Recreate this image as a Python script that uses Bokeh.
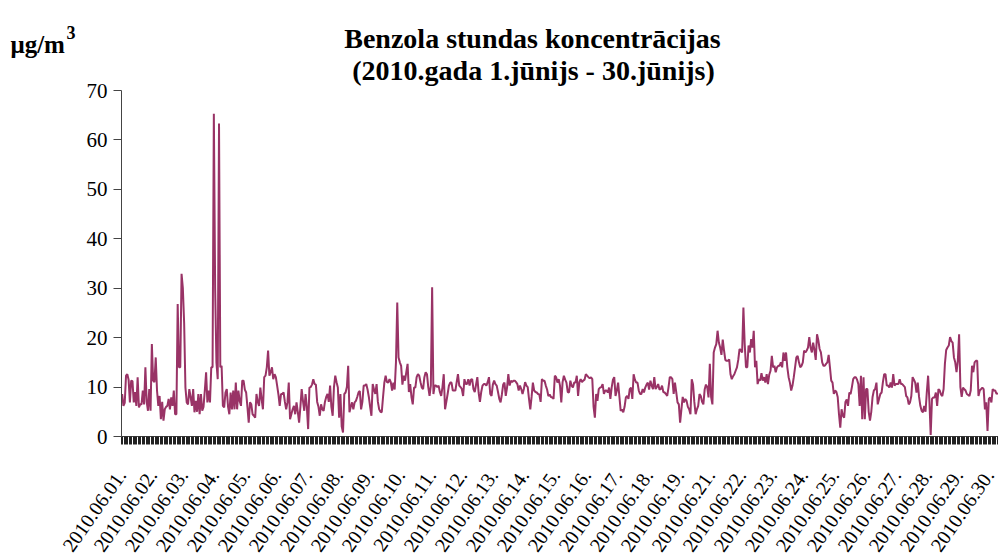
from bokeh.plotting import figure
from bokeh.models import FixedTicker, Range1d
from bokeh.core.properties import value
from bokeh.embed import file_html
from bokeh.resources import INLINE

# hourly benzene concentrations (µg/m3), one list per day (20 June missing in source)
d01 = [8.6, 6.2, 6.8, 12.3, 12.6, 11.5, 6.9, 11.3, 11.2, 6.9, 9, 6.2, 12, 5.9, 6.5, 6.5, 9.3, 6.5, 14, 7, 5.2, 9.6, 5.2, 18.7]
d02 = [11.3, 11, 16, 9.3, 6.2, 8.2, 3.5, 7, 3.2, 5.5, 6, 6.2, 7.6, 5.5, 7.9, 6.2, 9.3, 4.5, 4.5, 26.8, 14, 14, 32.9, 30]
d03 = [23, 9.9, 6.9, 6.5, 9.6, 8, 6.2, 9.6, 4.9, 7.2, 5, 8.6, 4.5, 8.6, 5.2, 6, 9.3, 13, 6.9, 9.3, 6.9, 14, 14, 65.3]
d04 = [30, 15, 11.6, 63.3, 14, 14.3, 6.2, 5.9, 8.9, 9.6, 6, 4.5, 8.9, 5.5, 9.3, 5.5, 10.9, 5.5, 9.3, 7.2, 6.2, 11.3, 11.3, 9.5]
d05 = [8.9, 6, 2.8, 6.9, 6.5, 4.5, 4.2, 3.8, 8.6, 7, 6.2, 9.9, 7.5, 5.5, 12, 12.3, 14, 17.4, 12.3, 13, 14, 11.6, 12.6, 12]
d06 = [10.3, 8.5, 6.2, 8.6, 8.6, 8.9, 7, 5.5, 6.9, 10.9, 3.5, 4.5, 5.5, 6.2, 4.5, 6.9, 5, 2.8, 6, 9.6, 7.2, 5.2, 8.6, 6]
d07 = [1.5, 9.9, 10, 10.5, 11.6, 10.6, 10.5, 7, 6, 4.2, 6.5, 5.5, 5.2, 7, 8, 8.6, 7, 10.3, 6, 4.2, 10, 12.3, 11, 9.9]
d08 = [3.8, 8.6, 2, 0.8, 8.6, 8.9, 10, 14.3, 4.9, 6, 6.9, 5.5, 6.9, 7.2, 8, 8.9, 9.2, 5.5, 7, 10.3, 10.3, 10.6, 9.5, 8]
d09 = [6, 4.2, 10.6, 9.5, 8.6, 10.6, 7, 5.5, 5, 4.9, 8, 10.9, 12.3, 11, 10.9, 11.6, 11, 9.3, 10.9, 9.5, 15, 27.1, 16, 15]
d10 = [14.3, 10.5, 12.3, 11.3, 13, 14.7, 9, 10.6, 8, 6.5, 9.9, 9.9, 12, 12.6, 12.3, 11, 9.9, 9.6, 12, 13, 12.6, 10, 8.2, 10.3]
d11 = [30.2, 8.6, 10.3, 10.3, 10, 10.3, 9, 8.2, 10, 12.6, 5.5, 7, 8.6, 10.3, 10.9, 10.9, 9.3, 9.3, 9.3, 11, 12.6, 10.3, 10, 9.6]
d12 = [8.2, 11.6, 10.6, 10.6, 11.6, 10.3, 11.5, 11.6, 9.6, 9, 10.5, 12, 8.9, 7, 9, 10.3, 10.6, 10.6, 10.3, 11, 12, 8.6, 8.2, 10.5]
d13 = [11.3, 10.6, 10.3, 9, 7.6, 6.9, 8.5, 10.5, 10.9, 8.2, 9.9, 12.6, 10.3, 11.3, 11, 11.3, 11.3, 11, 10.6, 9.3, 10.3, 9.6, 8.6, 9.6]
d14 = [11, 10.3, 10, 7.6, 5.5, 8, 10.9, 9.3, 9, 8.9, 8.6, 8.5, 7, 11.6, 11.3, 11.3, 10.3, 9.5, 8.2, 8.5, 8, 7.9, 7.6, 12.3]
d15 = [12, 10.9, 11.6, 10.3, 6.9, 11, 12.3, 11.5, 10.9, 9, 8.9, 11.3, 10.3, 9.9, 10.9, 10.9, 12.3, 8.2, 11, 11.6, 11, 11.3, 11.5, 12.6]
d16 = [12.3, 12, 11.8, 12, 11.6, 6, 3.8, 8.6, 7.2, 9.6, 9.9, 10, 10.6, 8.6, 9.3, 9.3, 8.9, 9.9, 7.6, 9.9, 11.5, 12, 8.2, 9.3]
d17 = [10.9, 8, 5.2, 5.5, 4.9, 6, 7.9, 8.2, 7.6, 9.6, 9.9, 7.6, 12.6, 11.5, 10.9, 10.9, 9.3, 8.6, 8.6, 9.6, 8.9, 9.9, 10.5, 10.9]
d18 = [9.5, 11.3, 10.3, 9.6, 12, 9.6, 10, 10.6, 9.5, 9.6, 10.3, 9, 8.9, 8.6, 8.2, 9.9, 12, 12, 11.6, 8.6, 10.9, 9, 6.9, 6.5]
d19 = [2.8, 5.5, 8, 6.9, 7.6, 7.2, 6, 5.5, 4.5, 11.6, 10.5, 7, 4.5, 5.5, 6.2, 8.6, 8.2, 7, 6.5, 9.5, 10.5, 10, 7.9, 14.7]
d21 = [8, 6.5, 17, 18, 18.7, 21.4, 19, 18, 16.5, 19.6, 17.4, 15.5, 15.3, 15.3, 15.6, 12.6, 11.6, 12.2, 12.6, 13.3, 14, 15.5, 17.7, 17.4]
d22 = [17, 26.1, 18.7, 14, 14, 18.4, 17, 19.7, 18, 21.4, 14, 15.3, 10.6, 11.6, 11.3, 12.8, 11.3, 12, 10.9, 12.6, 10.6, 12.5, 13.3, 16.3]
d23 = [14, 14.3, 13, 14, 14.3, 14.3, 15, 14, 17, 15.3, 17, 14, 12, 10.9, 9.3, 10.3, 12, 14, 16, 16.3, 15, 14, 14.3, 15]
d24 = [17.4, 17, 17.4, 18, 20.1, 18, 17, 19, 17.5, 15.5, 20.7, 19.5, 17.7, 17, 15, 14.3, 14.3, 14.7, 15, 16.5, 14, 11.3, 10.9, 8.6]
d25 = [9.3, 9, 8, 4.5, 1.8, 5.5, 4.2, 3.8, 7, 7.5, 6.2, 8.9, 8.6, 10, 11.6, 12, 12, 11.5, 10.6, 6.2, 12.3, 3.5, 12, 3.5]
d26 = [9.6, 9.6, 5, 3.2, 5, 8, 9.3, 9.6, 10.9, 6.5, 7.6, 8.6, 8.9, 11, 12.6, 12.6, 10.3, 10.3, 9.9, 10.9, 9.9, 12.6, 10.3, 10.6]
d27 = [10.6, 10.6, 11.6, 10.6, 10.6, 10.3, 10, 8.2, 7.9, 6.5, 6.9, 8.2, 12, 11.5, 10.9, 8.9, 10.9, 8, 6.2, 5.2, 4.9, 6.2, 5, 9]
d28 = [12.3, 7.2, 0.3, 7.6, 7.9, 7.9, 8.9, 6.2, 9.6, 9.3, 8.5, 8.2, 9.6, 14.7, 17.5, 18, 18.4, 20.1, 19.3, 19, 16, 15, 13, 15.3]
d29 = [20.7, 10, 8, 9.9, 9.6, 9.3, 8.6, 8.4, 8.2, 9.3, 14.3, 13, 15, 15.3, 15.3, 8.2, 9.3, 9.6, 9.9, 9.6, 5.5, 6.9, 1.1, 7.6]
d30 = [7.9, 6.9, 9.6, 9.3, 9.3, 8.6, 8.8]

days = [d01, d02, d03, d04, d05, d06, d07, d08, d09, d10, d11, d12, d13, d14, d15,
        d16, d17, d18, d19, d21, d22, d23, d24, d25, d26, d27, d28, d29, d30]
day_labels = ["2010.06.01.", "2010.06.02.", "2010.06.03.", "2010.06.04.", "2010.06.05.",
              "2010.06.06.", "2010.06.07.", "2010.06.08.", "2010.06.09.", "2010.06.10.",
              "2010.06.11.", "2010.06.12.", "2010.06.13.", "2010.06.14.", "2010.06.15.",
              "2010.06.16.", "2010.06.17.", "2010.06.18.", "2010.06.19.", "2010.06.21.",
              "2010.06.22.", "2010.06.23.", "2010.06.24.", "2010.06.25.", "2010.06.26.",
              "2010.06.27.", "2010.06.28.", "2010.06.29.", "2010.06.30."]
y_ticks = [0, 10, 20, 30, 40, 50, 60, 70]
Y_MAX = 70
title_line1 = "Benzola stundas koncentrācijas"
title_line2 = "(2010.gada 1.jūnijs - 30.jūnijs)"
unit_main = "μg/m"
unit_sup = "3"

values = [v for d in days for v in d]
n = len(values)
hours = [i + 0.5 for i in range(n)]
day_starts = []
pos = 0
for d in days:
    day_starts.append(pos)
    pos += len(d)

# ---- layout (canvas pixels); the frame covers the whole canvas ----
W, H = 998, 559
AXIS_X = 121          # canvas x of the value axis (hour 0)
AXIS_Y0 = 436         # canvas y of value 0
AXIS_Y70 = 90         # canvas y of value 70
ppx = (W - AXIS_X) / n
ppy = (AXIS_Y0 - AXIS_Y70) / Y_MAX
x_start = -AXIS_X / ppx
y_start = -(H - AXIS_Y0) / ppy
y_end = AXIS_Y0 / ppy

def to_data(cx, cy):
    return (cx - AXIS_X) / ppx, (AXIS_Y0 - cy) / ppy

SERIF = "Liberation Serif"
LINE = "#993366"
AXC = "#444444"

p = figure(width=W, height=H, output_backend="svg", toolbar_location=None,
           x_range=Range1d(x_start, n), y_range=Range1d(y_start, y_end),
           min_border_left=0, min_border_right=0, min_border_top=0, min_border_bottom=0)
p.outline_line_color = None
p.xgrid.grid_line_color = None
p.ygrid.grid_line_color = None
p.background_fill_color = "white"
p.border_fill_color = "white"

p.line(hours, values, line_color=LINE, line_width=2)

xa = p.xaxis[0]
xa.fixed_location = 0
xa.bounds = (0, n)
xa.ticker = FixedTicker(ticks=day_starts, minor_ticks=list(range(n + 1)))
xa.major_label_overrides = {t: lab for t, lab in zip(day_starts, day_labels)}
xa.major_label_orientation = 0.96
xa.major_label_text_font = SERIF
xa.major_label_text_font_size = "20px"
xa.major_label_text_color = "black"
xa.major_label_standoff = 27
xa.major_tick_line_color = None
xa.major_tick_out = 8
xa.major_tick_in = 0
xa.minor_tick_out = 8
xa.minor_tick_in = 0
xa.minor_tick_line_color = "#222222"
xa.minor_tick_line_width = 1
xa.axis_line_color = AXC

ya = p.yaxis[0]
ya.fixed_location = 0
ya.bounds = (0, Y_MAX)
ya.ticker = FixedTicker(ticks=y_ticks)
ya.major_label_text_font = SERIF
ya.major_label_text_font_size = "21px"
ya.major_label_text_color = "black"
ya.major_label_standoff = 6
ya.major_tick_out = 8
ya.major_tick_in = 0
ya.major_tick_line_color = AXC
ya.minor_tick_line_color = None
ya.axis_line_color = AXC

def add_text(text, cx, cy, size, align="center"):
    x, y = to_data(cx, cy)
    p.text(x=[x], y=[y], text=[text], text_align=align, text_baseline="alphabetic",
           text_font=value(SERIF), text_font_style="bold", text_font_size=size,
           text_color="black")

add_text(title_line1, 532, 38, "28px")
add_text(title_line2, 533, 70, "28px")
add_text(unit_main, 10, 44, "25px", align="left")
add_text(unit_sup, 66, 32, "18px", align="left")

open("out.html", "w").write(file_html(p, INLINE))
